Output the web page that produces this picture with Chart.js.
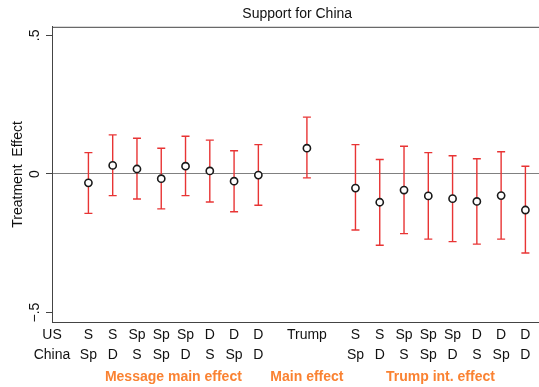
<!DOCTYPE html>
<html>
<head>
<meta charset="utf-8">
<script src="https://cdn.jsdelivr.net/npm/chart.js@4.4.1/dist/chart.umd.min.js"></script>
<style>
  body { margin: 0; overflow: hidden; background: #fff; }
</style>
</head>
<body>
<canvas id="myChart" width="548" height="387"></canvas>
<script>
// message combinations (US message, China message)
var usMsg = ['S', 'S', 'Sp', 'Sp', 'Sp', 'D', 'D', 'D'];
var chinaMsg = ['Sp', 'D', 'S', 'Sp', 'D', 'S', 'Sp', 'D'];

// message main effects
var mainEst = [-0.032, 0.031, 0.018, -0.017, 0.028, 0.011, -0.026, -0.004];
var mainLo = [-0.142, -0.078, -0.090, -0.126, -0.078, -0.101, -0.136, -0.113];
var mainHi = [0.077, 0.141, 0.129, 0.093, 0.136, 0.122, 0.084, 0.106];

// Trump main effect
var trumpEst = [0.093];
var trumpLo = [-0.014];
var trumpHi = [0.205];

// Trump interaction effects
var intEst = [-0.051, -0.102, -0.058, -0.079, -0.089, -0.099, -0.078, -0.130];
var intLo = [-0.202, -0.257, -0.215, -0.235, -0.244, -0.253, -0.235, -0.285];
var intHi = [0.106, 0.052, 0.100, 0.077, 0.066, 0.055, 0.080, 0.028];

var mainPos = [1, 2, 3, 4, 5, 6, 7, 8];
var trumpPos = [10];
var intPos = [12, 13, 14, 15, 16, 17, 18, 19];

var yTicks = [-0.5, 0, 0.5];
var yTickLabels = ['\u2212.5', '0', '.5'];

var groupPos = [4.5, 10, 15.5];
var groupLabels = ['Message main effect', 'Main effect', 'Trump int. effect'];

// build tick positions / labels for the two-row axis
var xTickPos = [-0.5].concat(mainPos, trumpPos, intPos);
var xTickLabels = [['US', 'China']];
mainPos.forEach(function(p, i) { xTickLabels.push([usMsg[i], chinaMsg[i]]); });
xTickLabels.push(['Trump', '']);
intPos.forEach(function(p, i) { xTickLabels.push([usMsg[i], chinaMsg[i]]); });

var allPos = mainPos.concat(trumpPos, intPos);
var allEst = mainEst.concat(trumpEst, intEst);
var allLo = mainLo.concat(trumpLo, intLo);
var allHi = mainHi.concat(trumpHi, intHi);

var red = 'rgb(232,52,52)';
var font = '"Liberation Sans", Arial, Helvetica, sans-serif';

var datasets = [{
    data: allPos.map(function(p, i) { return {x: p, y: allEst[i]}; }),
    pointStyle: 'circle',
    pointRadius: 3.6,
    pointBackgroundColor: '#fff',
    pointBorderColor: '#1a1a1a',
    pointBorderWidth: 1.6,
    showLine: false
}];
allPos.forEach(function(p, i) {
    datasets.push({
        data: [{x: p, y: allLo[i]}, {x: p, y: allHi[i]}],
        showLine: true,
        borderColor: red,
        borderWidth: 1.4,
        pointStyle: 'line',
        pointRadius: 4,
        pointBorderColor: red,
        pointBorderWidth: 1.4
    });
});

// top frame line and rotated y tick labels
var framePlugin = {
    id: 'frame',
    afterDraw: function(chart) {
        var ctx = chart.ctx, a = chart.chartArea, ys = chart.scales.y;
        ctx.save();
        ctx.strokeStyle = '#444';
        ctx.lineWidth = 1;
        ctx.beginPath();
        ctx.moveTo(a.left, a.top + 0.5);
        ctx.lineTo(a.right, a.top + 0.5);
        ctx.stroke();
        ctx.fillStyle = '#111';
        ctx.font = '14px ' + font;
        ctx.textAlign = 'center';
        ctx.textBaseline = 'middle';
        yTicks.forEach(function(v, i) {
            ctx.save();
            ctx.translate(35, ys.getPixelForValue(v));
            ctx.rotate(-Math.PI / 2);
            ctx.fillText(yTickLabels[i], 0, 0);
            ctx.restore();
        });
        ctx.restore();
    }
};

var ctx = document.getElementById('myChart').getContext('2d');
var myChart = new Chart(ctx, {
    type: 'scatter',
    data: { datasets: datasets },
    options: {
        responsive: false,
        animation: false,
        layout: { padding: 0 },
        plugins: {
            legend: { display: false },
            tooltip: { enabled: false },
            title: {
                display: true,
                text: 'Support for China',
                fullSize: false,
                color: '#111',
                font: { family: font, size: 14, weight: 'normal' },
                padding: { top: 6, bottom: 4 }
            }
        },
        scales: {
            x: {
                type: 'linear',
                position: 'bottom',
                min: -0.5,
                max: 19.7,
                afterBuildTicks: function(scale) {
                    scale.ticks = xTickPos.map(function(v) { return {value: v}; });
                },
                afterFit: function(scale) { scale.height = 45; },
                grid: { display: false, drawTicks: false },
                border: { display: true, color: '#444', width: 1 },
                ticks: {
                    autoSkip: false,
                    maxRotation: 0,
                    padding: 3,
                    color: '#111',
                    font: { family: font, size: 14, lineHeight: 1.43 },
                    callback: function(value, index) { return xTickLabels[index]; }
                }
            },
            x2: {
                type: 'linear',
                position: 'bottom',
                min: -0.5,
                max: 19.7,
                afterBuildTicks: function(scale) {
                    scale.ticks = groupPos.map(function(v) { return {value: v}; });
                },
                afterFit: function(scale) { scale.height = 20; },
                grid: { display: false, drawTicks: false },
                border: { display: false },
                ticks: {
                    autoSkip: false,
                    maxRotation: 0,
                    padding: 2,
                    color: '#fa8232',
                    font: { family: font, size: 14, weight: 'bold' },
                    callback: function(value, index) { return groupLabels[index]; }
                }
            },
            y: {
                min: -0.534,
                max: 0.531,
                afterBuildTicks: function(scale) {
                    scale.ticks = yTicks.map(function(v) { return {value: v}; });
                },
                afterFit: function(scale) { scale.width = 52; },
                grid: {
                    color: function(c) { return c.tick && c.tick.value === 0 ? '#808080' : 'rgba(0,0,0,0)'; },
                    tickColor: '#444',
                    tickLength: 6,
                    drawTicks: true
                },
                border: { display: true, color: '#444', width: 1 },
                ticks: { display: false },
                title: {
                    display: true,
                    text: 'Treatment  Effect',
                    color: '#111',
                    font: { family: font, size: 14 },
                    padding: { top: 10, bottom: 0 }
                }
            }
        }
    },
    plugins: [framePlugin]
});
</script>
</body>
</html>
